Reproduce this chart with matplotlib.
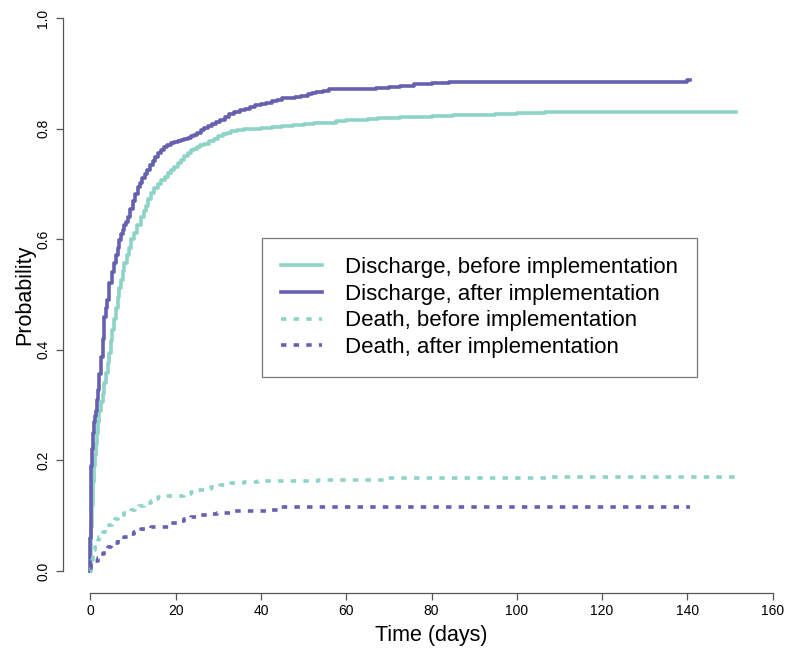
import numpy as np
import matplotlib
matplotlib.use("Agg")
import matplotlib.pyplot as plt

plt.rcParams['font.family'] = ['Liberation Sans', 'DejaVu Sans']

# cumulative incidence curves (days, probability)
dis_before_t = [0, 0.1, 0.2, 0.35, 0.55, 0.8, 1.05, 1.3, 1.55, 1.8, 2.1, 2.5, 2.9, 3.3, 3.7,
                4.1, 4.5, 4.85, 5.2, 5.6, 6.0, 6.4, 6.8, 7.2, 7.6, 8.0, 8.5, 9.0, 9.6, 10.3,
                11.0, 11.9, 12.5, 13.0, 13.6, 14.2, 15.0, 15.8, 16.6, 17.4, 18.2, 19.0,
                19.7, 20.5, 21.2, 22.0, 22.8, 23.6, 24.3, 25.0, 25.8, 26.7, 27.8, 29, 30,
                31, 32, 33, 34.5, 36, 38, 40, 42.5, 45, 47.5, 50, 52.5, 55, 57.5, 60, 62.5,
                65, 67.5, 70, 72.5, 75, 77.5, 80, 85, 90, 95, 100, 106.5, 151.5]
dis_before_p = [0, 0.04, 0.08, 0.12, 0.16, 0.19, 0.21, 0.23, 0.25, 0.27, 0.29, 0.305, 0.32,
                0.34, 0.358, 0.376, 0.395, 0.416, 0.436, 0.456, 0.476, 0.496, 0.511, 0.527,
                0.542, 0.557, 0.571, 0.585, 0.6, 0.612, 0.626, 0.641, 0.651, 0.66, 0.672,
                0.683, 0.692, 0.70, 0.707, 0.713, 0.72, 0.726, 0.731, 0.737, 0.744, 0.75,
                0.756, 0.761, 0.764, 0.767, 0.77, 0.773, 0.777, 0.781, 0.786, 0.79, 0.793,
                0.795, 0.797, 0.799, 0.8, 0.802, 0.803, 0.805, 0.806, 0.808, 0.81, 0.811,
                0.813, 0.815, 0.816, 0.818, 0.819, 0.82, 0.821, 0.822, 0.822, 0.823, 0.824,
                0.825, 0.827, 0.828, 0.831, 0.831]

dis_after_t = [0, 0.02, 0.05, 0.1, 0.15, 0.3, 0.55, 0.8, 1.0, 1.3, 1.5, 1.7, 2.1, 2.5, 2.9,
               3.3, 3.7, 4.0, 4.3, 4.5, 5.0, 5.6, 6.0, 6.4, 6.8, 7.2, 7.6, 8.0, 8.4, 8.8,
               9.4, 10.0, 10.5, 11.1, 11.6, 12.2, 12.8, 13.4, 14.0, 14.6, 15.2, 15.8, 16.5,
               17.2, 18.0, 18.9, 19.7, 20.5, 21.2, 22.0, 22.8, 23.5, 24.3, 25.1, 25.9,
               26.7, 27.6, 28.5, 29.5, 30.5, 31.5, 32.5, 33.7, 35, 36.2, 37.5, 38.7, 40,
               41.2, 42.5, 43.7, 45, 46.5, 48, 49.5, 51, 52, 53, 54.5, 56, 60, 67, 70, 72.5,
               76, 80, 84, 140, 140.5]
dis_after_p = [0, 0.06, 0.12, 0.16, 0.19, 0.22, 0.25, 0.27, 0.28, 0.29, 0.31, 0.327, 0.357,
               0.387, 0.42, 0.46, 0.475, 0.49, 0.505, 0.52, 0.54, 0.557, 0.572, 0.585,
               0.598, 0.61, 0.617, 0.625, 0.632, 0.64, 0.655, 0.67, 0.682, 0.695, 0.702,
               0.71, 0.718, 0.725, 0.734, 0.742, 0.749, 0.756, 0.761, 0.766, 0.77, 0.774,
               0.776, 0.777, 0.779, 0.781, 0.783, 0.786, 0.789, 0.792, 0.797, 0.801, 0.804,
               0.808, 0.812, 0.816, 0.821, 0.826, 0.83, 0.834, 0.836, 0.839, 0.842, 0.845,
               0.847, 0.85, 0.852, 0.855, 0.856, 0.858, 0.86, 0.862, 0.864, 0.866, 0.868,
               0.871, 0.872, 0.873, 0.875, 0.877, 0.88, 0.882, 0.884, 0.888, 0.888]

death_before_t = [0, 0.1, 0.3, 0.6, 0.9, 1.2, 1.5, 1.8, 2.1, 2.5, 3.0, 3.4, 3.7, 4.3, 5.0,
                  5.7, 6.4, 7.2, 8.0, 8.7, 9.5, 10.5, 11.5, 12.5, 13.4, 14.2, 15.0, 15.8,
                  16.6, 22.0, 23.6, 25.2, 26.8, 28.3, 30.5, 33.0, 36, 39.3, 45.5, 53.3, 69,
                  90, 107, 125, 151.5]
death_before_p = [0, 0.012, 0.02, 0.03, 0.038, 0.044, 0.05, 0.056, 0.062, 0.066, 0.07,
                  0.074, 0.078, 0.083, 0.088, 0.093, 0.098, 0.101, 0.104, 0.107, 0.11,
                  0.114, 0.117, 0.12, 0.123, 0.127, 0.13, 0.133, 0.136, 0.139, 0.143, 0.146,
                  0.149, 0.152, 0.155, 0.159, 0.161, 0.162, 0.163, 0.165, 0.168, 0.168,
                  0.169, 0.170, 0.170]

death_after_t = [0, 0.15, 1.0, 1.7, 2.5, 3.3, 4.1, 4.9, 6.5, 8.0, 9.2, 10.3, 12, 14.2, 16.6,
                 18.9, 20.5, 22.0, 23.6, 25.2, 27.5, 29.8, 33.8, 42.4, 43.9, 140.5]
death_after_p = [0.005, 0.014, 0.018, 0.023, 0.03, 0.038, 0.044, 0.05, 0.056, 0.062, 0.067,
                 0.071, 0.075, 0.079, 0.08, 0.087, 0.09, 0.093, 0.097, 0.101, 0.103, 0.105,
                 0.109, 0.11, 0.115, 0.115]

labels = ["Discharge, before implementation", "Discharge, after implementation",
          "Death, before implementation", "Death, after implementation"]
teal = "#8DD3C7"
purple = "#6560B0"

fig = plt.figure(figsize=(7.91, 6.55), dpi=100)
W, H = 791.0, 655.0
# plot region like R: left 63px, right 800px, top -4px, bottom 593px
ax = fig.add_axes([63 / W, (H - 593) / H, (800 - 63) / W, (593 + 4) / H])

lw = 2.6
dash = (1.5, 2.0)
ax.step(dis_before_t, dis_before_p, where="post", color=teal, lw=lw, label=labels[0])
ax.step(dis_after_t, dis_after_p, where="post", color=purple, lw=lw, label=labels[1])
ax.step(death_before_t, death_before_p, where="post", color=teal, lw=lw,
        dashes=dash, label=labels[2])
ax.step(death_after_t, death_after_p, where="post", color=purple, lw=lw,
        dashes=dash, label=labels[3])

ax.set_xlim(-6.4, 166.4)
ax.set_ylim(-0.04, 1.04)
ax.set_xticks(np.arange(0, 161, 20))
ax.set_yticks(np.arange(0, 1.01, 0.2))
ax.set_yticklabels(["0.0", "0.2", "0.4", "0.6", "0.8", "1.0"], rotation=90, va="center")

for s in ["top", "right"]:
    ax.spines[s].set_visible(False)
ax.spines["left"].set_bounds(0, 1)
ax.spines["bottom"].set_bounds(0, 160)
for s in ["left", "bottom"]:
    ax.spines[s].set_color("#555555")
    ax.spines[s].set_linewidth(0.9)
ax.tick_params(axis="both", direction="out", length=5, width=0.9, color="#555555",
               labelsize=10)
ax.tick_params(axis="x", pad=3)
ax.tick_params(axis="y", pad=4)

ax.set_xlabel("Time (days)", fontsize=15.5, va="center")
ax.xaxis.set_label_coords(0.5, (593 - 636) / 597.0)
ax.set_ylabel("Probability", fontsize=15.5, va="center")
ax.yaxis.set_label_coords((25 - 63) / 737.0, 0.5)

leg = ax.legend(loc="upper left", bbox_to_anchor=(262 / W, 1 - 238 / H),
                bbox_transform=fig.transFigure, fontsize=16, frameon=True,
                fancybox=False, edgecolor="#555555", handlelength=1.85,
                handletextpad=1.05, labelspacing=0.26, borderpad=0.85,
                borderaxespad=0)
leg.get_frame().set_linewidth(0.9)

fig.savefig("out.png", dpi=100)
